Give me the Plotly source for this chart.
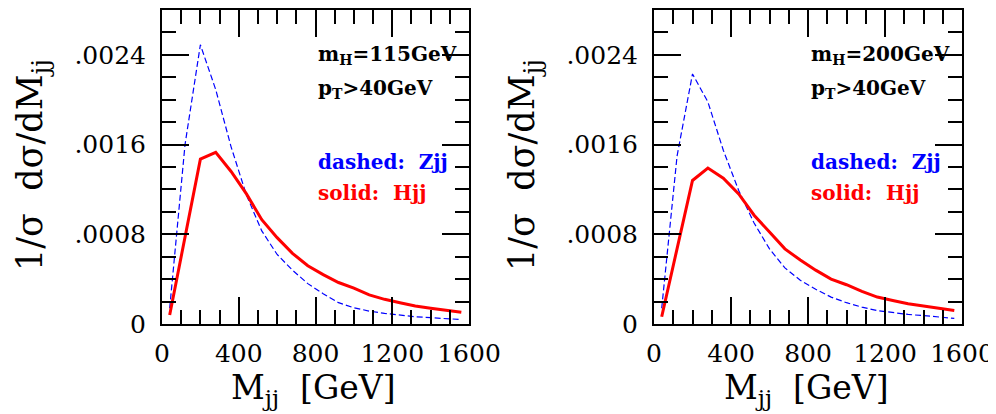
import plotly.graph_objects as go

# ---------------- data ----------------
mjj = [40, 120, 200, 280, 360, 440, 520, 600, 680, 760, 840, 920, 1000,
       1080, 1160, 1240, 1320, 1400, 1480, 1560]

# left panel: m_H = 115 GeV
hjj_115 = [0.00008, 0.00078, 0.00147, 0.00153, 0.00136, 0.00116, 0.00093,
           0.00077, 0.00063, 0.00052, 0.00044, 0.00037, 0.00032, 0.00026,
           0.00022, 0.00019, 0.00016, 0.00014, 0.00012, 0.000105]
zjj_115 = [0.00014, 0.00160, 0.00249, 0.00209, 0.00158, 0.00115, 0.00083,
           0.00062, 0.00048, 0.00036, 0.00027, 0.00019, 0.000145, 0.000115,
           0.000095, 0.000078, 0.000065, 0.000056, 0.000048, 0.00004]

# right panel: m_H = 200 GeV
hjj_200 = [0.000065, 0.00067, 0.00128, 0.00139, 0.00130, 0.00116, 0.00097,
           0.00082, 0.00067, 0.00057, 0.00048, 0.00040, 0.00035, 0.00029,
           0.00024, 0.00021, 0.00018, 0.00016, 0.00014, 0.00012]
zjj_200 = [0.00014, 0.00150, 0.00223, 0.00198, 0.00155, 0.00119, 0.00090,
           0.00067, 0.00050, 0.00039, 0.00031, 0.00024, 0.00019, 0.00015,
           0.00012, 0.00010, 0.000085, 0.000075, 0.000062, 0.00005]

x_tickvals = [0, 400, 800, 1200, 1600]
x_ticktext = ["0", "400", "800", "1200", "1600"]
y_tickvals = [0, 0.0008, 0.0016, 0.0024]
y_ticktext = ["0", ".0008", ".0016", ".0024"]

panel_labels = ["m<sub>H</sub>=115GeV", "m<sub>H</sub>=200GeV"]
cut_label = "p<sub>T</sub>>40GeV"
zjj_label = "dashed:\u00a0 Zjj"
hjj_label = "solid:\u00a0 Hjj"
y_title = "1/σ\u00a0 dσ/dM<sub>jj</sub>"
x_title = "M<sub>jj</sub>\u00a0 [GeV]"

# ---------------- figure ----------------
# page body has an 8px margin: figure is 988x406 so it fills the 996x414 window
W, H = 988, 406
OFF = 8
SERIF = "DejaVu Serif"
fig = go.Figure()

panels = [(hjj_115, zjj_115, "x", "y"), (hjj_200, zjj_200, "x2", "y2")]
for h, z, xa, ya in panels:
    fig.add_trace(go.Scatter(x=mjj, y=z, mode="lines", xaxis=xa, yaxis=ya,
                             line=dict(color="#0000ff", width=1.2, dash="6px,3px"),
                             showlegend=False, hoverinfo="skip"))
    fig.add_trace(go.Scatter(x=mjj, y=h, mode="lines", xaxis=xa, yaxis=ya,
                             line=dict(color="#ff0000", width=3),
                             showlegend=False, hoverinfo="skip"))

def px_x(X):
    return (X - OFF) / W

def px_y(Y):
    return 1 - (Y - OFF) / H

def xaxis(domain, anchor):
    return dict(domain=domain, anchor=anchor, range=[0, 1600], automargin=False,
                tickvals=x_tickvals, ticktext=x_ticktext,
                ticks="inside", ticklen=27, tickwidth=1.5, tickcolor="black",
                minor=dict(dtick=100, tick0=0, ticks="inside", ticklen=14,
                           tickwidth=1.5, tickcolor="black", showgrid=False),
                showline=True, linewidth=2, linecolor="black", mirror="allticks",
                showgrid=False, zeroline=False, ticklabelstandoff=6,
                tickfont=dict(family=SERIF, size=25, color="black"))

def yaxis(anchor):
    return dict(domain=[px_y(324), px_y(10)], anchor=anchor, range=[0, 0.0028],
                automargin=False,
                tickvals=y_tickvals, ticktext=y_ticktext,
                ticks="inside", ticklen=27, tickwidth=1.5, tickcolor="black",
                minor=dict(dtick=0.0002, tick0=0, ticks="inside", ticklen=14,
                           tickwidth=1.5, tickcolor="black", showgrid=False),
                showline=True, linewidth=2, linecolor="black", mirror="allticks",
                showgrid=False, zeroline=False, ticklabelstandoff=9,
                tickfont=dict(family=SERIF, size=25, color="black"))

fig.update_layout(
    width=W, height=H,
    margin=dict(l=0, r=0, t=0, b=0),
    paper_bgcolor="white", plot_bgcolor="white",
    xaxis=xaxis([px_x(162), px_x(469)], "y"),
    yaxis=yaxis("x"),
    xaxis2=xaxis([px_x(654), px_x(962)], "y2"),
    yaxis2=yaxis("x2"),
)

annots = []
for i, (xr, yr) in enumerate([("x", "y"), ("x2", "y2")]):
    common = dict(xref=xr, yref=yr, x=805, xanchor="left", yanchor="middle",
                  showarrow=False)
    annots.append(dict(text="<b>" + panel_labels[i] + "</b>", y=0.00240,
                       font=dict(family=SERIF, size=20, color="black"), **common))
    annots.append(dict(text="<b>" + cut_label + "</b>", y=0.00210,
                       font=dict(family=SERIF, size=20, color="black"), **common))
    annots.append(dict(text="<b>" + zjj_label + "</b>", y=0.001445,
                       font=dict(family=SERIF, size=20, color="#0000ff"), **common))
    annots.append(dict(text="<b>" + hjj_label + "</b>", y=0.001168,
                       font=dict(family=SERIF, size=20, color="#ff0000"), **common))

for cx_title, cx_y in [(313, 32), (806, 524)]:
    annots.append(dict(text=x_title, xref="paper", yref="paper",
                       x=px_x(cx_title), y=px_y(389), xanchor="center", yanchor="middle",
                       showarrow=False, font=dict(family=SERIF, size=33, color="black")))
    annots.append(dict(text=y_title, xref="paper", yref="paper",
                       x=px_x(cx_y), y=px_y(165), xanchor="center", yanchor="middle",
                       textangle=-90, showarrow=False,
                       font=dict(family=SERIF, size=35, color="black")))

fig.update_layout(annotations=annots)
fig.write_html("out.html")
